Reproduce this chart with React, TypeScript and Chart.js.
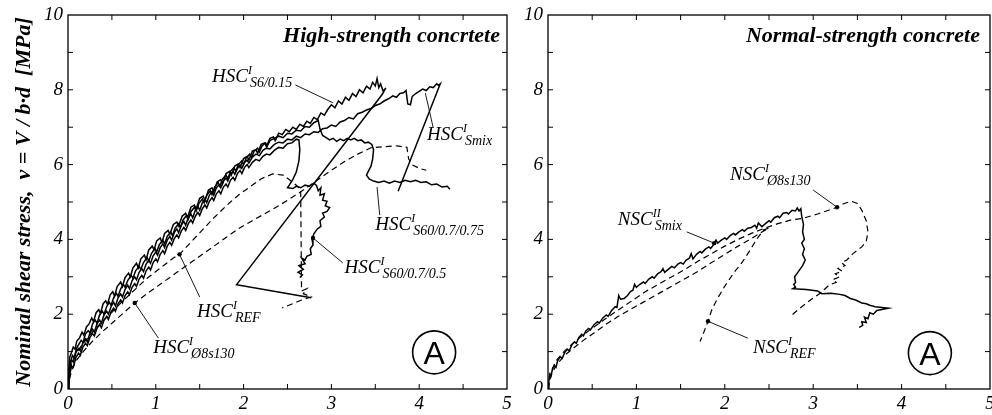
import React, { useEffect, useRef } from 'react';
import { Chart, registerables } from 'chart.js';

Chart.register(...registerables);

type Pt = [number, number];

const SERIF = '"Liberation Serif", "Times New Roman", serif';
const SANS = '"Liberation Sans", Arial, sans-serif';

// Axis ticks (labelled) and the unlabelled inner tick marks
const X_TICKS = [0, 1, 2, 3, 4, 5];
const Y_TICKS = [0, 2, 4, 6, 8, 10];
const X_MARKS = [0.5, 1, 1.5, 2, 2.5, 3, 3.5, 4, 4.5];
const Y_MARKS = [1, 2, 3, 4, 5, 6, 7, 8, 9];

// ---- High-strength concrete: shear stress v [MPa] vs. deflection ----
const hscS6: Pt[] = [
  [0, 0], [0.01, 0.55], [0.02, 0.85], [0.04, 0.98], [0.06, 1.12], [0.08, 1.06], [0.1, 1.28], [0.13, 1.36],
  [0.16, 1.52], [0.18, 1.44], [0.21, 1.66], [0.24, 1.74], [0.27, 1.9], [0.29, 1.8], [0.32, 2.04], [0.35, 2.12],
  [0.37, 2.02], [0.4, 2.28], [0.43, 2.36], [0.45, 2.26], [0.48, 2.52], [0.51, 2.6], [0.53, 2.48], [0.56, 2.74],
  [0.6, 2.86], [0.62, 2.74], [0.65, 2.98], [0.69, 3.1], [0.71, 3.0], [0.74, 3.24], [0.78, 3.36], [0.8, 3.24],
  [0.83, 3.48], [0.87, 3.58], [0.89, 3.46], [0.92, 3.72], [0.96, 3.82], [0.98, 3.72], [1.01, 3.96], [1.05, 4.04],
  [1.07, 3.92], [1.1, 4.16], [1.14, 4.24], [1.16, 4.14], [1.2, 4.4], [1.24, 4.46], [1.26, 4.36], [1.3, 4.62],
  [1.34, 4.7], [1.36, 4.58], [1.4, 4.86], [1.44, 4.92], [1.46, 4.82], [1.5, 5.1], [1.54, 5.16], [1.56, 5.04],
  [1.6, 5.32], [1.64, 5.38], [1.66, 5.28], [1.7, 5.54], [1.74, 5.6], [1.76, 5.48], [1.8, 5.76], [1.84, 5.82],
  [1.86, 5.72], [1.9, 5.96], [1.94, 6.02], [1.96, 5.92], [2.0, 6.16], [2.04, 6.22], [2.06, 6.12], [2.1, 6.36],
  [2.14, 6.4], [2.16, 6.3], [2.2, 6.54], [2.24, 6.58], [2.26, 6.48], [2.3, 6.7], [2.34, 6.74], [2.36, 6.64],
  [2.4, 6.84], [2.44, 6.8], [2.48, 6.94], [2.52, 6.88], [2.56, 7.0], [2.6, 6.94], [2.64, 7.08], [2.68, 7.02],
  [2.72, 7.16], [2.76, 7.1], [2.8, 7.26], [2.84, 7.2], [2.88, 7.38], [2.92, 7.32], [2.96, 7.48], [3.0, 7.6],
  [3.04, 7.52], [3.08, 7.7], [3.12, 7.62], [3.16, 7.8], [3.2, 7.72], [3.24, 7.9], [3.28, 7.82], [3.32, 8.0],
  [3.36, 7.92], [3.4, 8.1], [3.44, 8.02], [3.47, 8.2], [3.5, 8.1], [3.52, 8.3], [3.54, 8.06], [3.56, 8.16],
  [3.59, 7.96], [3.62, 8.05], [3.58, 7.88], [1.92, 2.79], [2.77, 2.44],
];
const hscS6075: Pt[] = [
  [0, 0], [0.01, 0.42], [0.03, 0.72], [0.05, 0.9], [0.07, 0.84], [0.1, 1.1], [0.12, 1.18], [0.15, 1.3],
  [0.17, 1.24], [0.2, 1.48], [0.23, 1.56], [0.25, 1.5], [0.28, 1.74], [0.31, 1.84], [0.33, 1.76], [0.36, 1.98],
  [0.39, 2.08], [0.41, 2.0], [0.44, 2.2], [0.47, 2.32], [0.49, 2.24], [0.52, 2.44], [0.55, 2.56], [0.57, 2.48],
  [0.6, 2.68], [0.63, 2.8], [0.65, 2.72], [0.68, 2.9], [0.72, 3.04], [0.74, 2.96], [0.77, 3.16], [0.81, 3.28],
  [0.83, 3.2], [0.86, 3.38], [0.9, 3.52], [0.92, 3.42], [0.95, 3.62], [0.99, 3.76], [1.01, 3.66], [1.04, 3.86],
  [1.08, 3.98], [1.1, 3.88], [1.13, 4.08], [1.17, 4.2], [1.19, 4.1], [1.22, 4.3], [1.26, 4.42], [1.28, 4.32],
  [1.31, 4.52], [1.35, 4.64], [1.37, 4.54], [1.4, 4.74], [1.44, 4.86], [1.46, 4.76], [1.49, 4.96], [1.53, 5.08],
  [1.55, 4.98], [1.58, 5.18], [1.62, 5.3], [1.64, 5.2], [1.67, 5.4], [1.71, 5.52], [1.73, 5.42], [1.76, 5.62],
  [1.8, 5.72], [1.82, 5.62], [1.85, 5.82], [1.89, 5.92], [1.91, 5.82], [1.94, 6.0], [1.98, 6.1], [2.0, 6.0],
  [2.03, 6.18], [2.07, 6.28], [2.09, 6.18], [2.12, 6.36], [2.16, 6.44], [2.18, 6.34], [2.21, 6.5], [2.25, 6.58],
  [2.27, 6.5], [2.3, 6.64], [2.35, 6.7], [2.4, 6.76], [2.45, 6.72], [2.5, 6.84], [2.55, 6.82], [2.6, 6.92],
  [2.65, 6.9], [2.7, 7.02], [2.75, 7.0], [2.8, 7.12], [2.85, 7.18], [2.87, 6.95], [2.9, 6.78], [2.94, 6.72],
  [2.98, 6.66], [3.02, 6.7], [3.06, 6.62], [3.1, 6.68], [3.14, 6.64], [3.18, 6.7], [3.22, 6.66], [3.26, 6.7],
  [3.3, 6.64], [3.34, 6.66], [3.38, 6.58], [3.42, 6.6], [3.46, 6.54], [3.48, 6.4], [3.47, 6.15], [3.45, 5.95],
  [3.42, 5.82], [3.4, 5.72], [3.43, 5.62], [3.48, 5.56], [3.54, 5.52], [3.6, 5.56], [3.66, 5.5], [3.72, 5.56],
  [3.78, 5.52], [3.84, 5.58], [3.9, 5.54], [3.96, 5.58], [4.02, 5.52], [4.08, 5.54], [4.14, 5.46], [4.2, 5.48],
  [4.26, 5.4], [4.32, 5.42], [4.35, 5.34],
];
const hscSmix: Pt[] = [
  [0, 0], [0.02, 0.6], [0.04, 0.78], [0.06, 0.72], [0.09, 0.98], [0.12, 1.08], [0.14, 1.02], [0.17, 1.24],
  [0.2, 1.34], [0.22, 1.26], [0.25, 1.5], [0.28, 1.6], [0.3, 1.52], [0.33, 1.74], [0.36, 1.84], [0.38, 1.76],
  [0.41, 1.98], [0.44, 2.08], [0.46, 2.0], [0.49, 2.2], [0.52, 2.32], [0.54, 2.22], [0.57, 2.44], [0.6, 2.54],
  [0.62, 2.46], [0.65, 2.66], [0.68, 2.78], [0.7, 2.68], [0.73, 2.9], [0.76, 3.0], [0.78, 2.92], [0.81, 3.12],
  [0.84, 3.22], [0.86, 3.14], [0.89, 3.34], [0.92, 3.44], [0.94, 3.36], [0.97, 3.56], [1.0, 3.66], [1.02, 3.58],
  [1.05, 3.78], [1.08, 3.88], [1.1, 3.78], [1.13, 3.98], [1.16, 4.08], [1.18, 3.98], [1.21, 4.18], [1.24, 4.28],
  [1.26, 4.18], [1.29, 4.38], [1.32, 4.48], [1.34, 4.38], [1.37, 4.58], [1.4, 4.68], [1.42, 4.58], [1.45, 4.78],
  [1.48, 4.88], [1.5, 4.78], [1.53, 4.98], [1.56, 5.08], [1.58, 4.98], [1.61, 5.18], [1.64, 5.28], [1.66, 5.18],
  [1.69, 5.38], [1.72, 5.46], [1.74, 5.38], [1.77, 5.56], [1.8, 5.64], [1.82, 5.56], [1.85, 5.74], [1.88, 5.82],
  [1.9, 5.74], [1.93, 5.9], [1.96, 5.98], [1.98, 5.9], [2.01, 6.06], [2.04, 6.12], [2.06, 6.04], [2.1, 6.2],
  [2.14, 6.28], [2.18, 6.24], [2.22, 6.38], [2.26, 6.44], [2.3, 6.42], [2.35, 6.54], [2.4, 6.6], [2.45, 6.58],
  [2.5, 6.68], [2.55, 6.66], [2.6, 6.76], [2.65, 6.72], [2.7, 6.82], [2.75, 6.8], [2.8, 6.88], [2.85, 6.86],
  [2.9, 6.96], [2.95, 6.98], [3.0, 7.06], [3.05, 7.02], [3.1, 7.14], [3.15, 7.18], [3.2, 7.26], [3.25, 7.22],
  [3.3, 7.36], [3.35, 7.4], [3.4, 7.46], [3.45, 7.5], [3.5, 7.58], [3.55, 7.62], [3.6, 7.7], [3.65, 7.76],
  [3.7, 7.84], [3.74, 7.8], [3.78, 7.9], [3.82, 7.92], [3.85, 7.98], [3.87, 7.62], [3.9, 7.6], [3.92, 7.82],
  [3.96, 7.9], [4.0, 7.96], [4.04, 8.02], [4.08, 7.98], [4.12, 8.08], [4.16, 8.06], [4.2, 8.16], [4.22, 8.12],
  [4.24, 8.16], [3.76, 5.29],
];
const hscS605: Pt[] = [
  [0, 0], [0.02, 0.38], [0.04, 0.62], [0.06, 0.58], [0.09, 0.84], [0.12, 0.96], [0.14, 0.9], [0.17, 1.12],
  [0.2, 1.22], [0.22, 1.16], [0.25, 1.38], [0.28, 1.48], [0.3, 1.42], [0.33, 1.62], [0.36, 1.72], [0.38, 1.64],
  [0.41, 1.84], [0.44, 1.94], [0.46, 1.86], [0.49, 2.06], [0.52, 2.16], [0.54, 2.08], [0.57, 2.28], [0.6, 2.38],
  [0.62, 2.3], [0.65, 2.5], [0.68, 2.6], [0.7, 2.52], [0.73, 2.72], [0.76, 2.82], [0.78, 2.74], [0.81, 2.94],
  [0.84, 3.04], [0.86, 2.96], [0.89, 3.16], [0.92, 3.26], [0.94, 3.18], [0.97, 3.38], [1.0, 3.48], [1.02, 3.4],
  [1.05, 3.6], [1.08, 3.7], [1.1, 3.62], [1.13, 3.82], [1.16, 3.92], [1.18, 3.84], [1.21, 4.02], [1.24, 4.12],
  [1.26, 4.04], [1.29, 4.22], [1.32, 4.32], [1.34, 4.24], [1.37, 4.42], [1.4, 4.52], [1.42, 4.44], [1.45, 4.62],
  [1.48, 4.72], [1.5, 4.64], [1.53, 4.82], [1.56, 4.92], [1.58, 4.84], [1.61, 5.02], [1.64, 5.12], [1.66, 5.04],
  [1.69, 5.22], [1.72, 5.3], [1.74, 5.22], [1.77, 5.4], [1.8, 5.48], [1.82, 5.4], [1.85, 5.58], [1.88, 5.66],
  [1.9, 5.58], [1.93, 5.76], [1.96, 5.84], [1.98, 5.76], [2.01, 5.92], [2.04, 6.0], [2.06, 5.92], [2.1, 6.06],
  [2.14, 6.14], [2.18, 6.1], [2.22, 6.22], [2.26, 6.28], [2.3, 6.26], [2.35, 6.38], [2.4, 6.46], [2.45, 6.44],
  [2.5, 6.56], [2.55, 6.58], [2.6, 6.68], [2.63, 6.66], [2.64, 6.4], [2.63, 6.1], [2.6, 5.8], [2.56, 5.6],
  [2.52, 5.45], [2.5, 5.38], [2.56, 5.36], [2.6, 5.42], [2.65, 5.38], [2.7, 5.45], [2.75, 5.42], [2.8, 5.5],
  [2.83, 5.44], [2.85, 5.3], [2.88, 5.38], [2.87, 5.18], [2.92, 5.22], [2.9, 5.05], [2.95, 5.02], [2.93, 4.9],
  [2.98, 4.85], [2.95, 4.75], [2.9, 4.7], [2.92, 4.6], [2.87, 4.5], [2.88, 4.35], [2.84, 4.28], [2.8, 4.15],
  [2.78, 4.0], [2.79, 3.85], [2.76, 3.75], [2.77, 3.6], [2.72, 3.55], [2.7, 3.45], [2.66, 3.5], [2.7, 3.35],
  [2.63, 3.3], [2.68, 3.2], [2.62, 3.12], [2.67, 3.05], [2.64, 2.98],
];
const hscRef: Pt[] = [
  [0, 0], [0.01, 0.35], [0.03, 0.6], [0.07, 0.85], [0.12, 1.05], [0.2, 1.3], [0.3, 1.58], [0.4, 1.82],
  [0.5, 2.05], [0.6, 2.3], [0.7, 2.52], [0.8, 2.74], [0.9, 2.96], [1.0, 3.14], [1.1, 3.32], [1.2, 3.5],
  [1.27, 3.6], [1.35, 3.8], [1.45, 4.05], [1.55, 4.3], [1.65, 4.55], [1.75, 4.78], [1.85, 5.0], [1.95, 5.2],
  [2.07, 5.4], [2.2, 5.62], [2.33, 5.75], [2.45, 5.72], [2.53, 5.58], [2.6, 5.45], [2.65, 5.35], [2.66, 2.62],
  [2.72, 2.68], [2.68, 2.55], [2.77, 2.46], [2.66, 2.38], [2.56, 2.28], [2.44, 2.17],
];
const hscD8: Pt[] = [
  [0, 0], [0.02, 0.3], [0.05, 0.55], [0.1, 0.78], [0.18, 1.02], [0.28, 1.28], [0.4, 1.55], [0.52, 1.8],
  [0.64, 2.05], [0.76, 2.3], [0.9, 2.55], [1.05, 2.8], [1.2, 3.05], [1.35, 3.3], [1.5, 3.55], [1.65, 3.8],
  [1.8, 4.05], [1.95, 4.3], [2.1, 4.5], [2.25, 4.7], [2.4, 4.9], [2.55, 5.12], [2.7, 5.35], [2.85, 5.6],
  [3.0, 5.85], [3.15, 6.08], [3.3, 6.28], [3.45, 6.45], [3.6, 6.48], [3.75, 6.5], [3.86, 6.46], [3.88, 6.15],
  [3.93, 5.98], [4.0, 5.9], [4.08, 5.85],
];

// ---- Normal-strength concrete ----
const nscSmix: Pt[] = [
  [0, 0], [0.01, 0.2], [0.02, 0.38], [0.03, 0.32], [0.05, 0.52], [0.07, 0.62], [0.09, 0.58], [0.11, 0.76],
  [0.14, 0.86], [0.16, 0.82], [0.19, 0.98], [0.22, 1.06], [0.24, 1.02], [0.27, 1.18], [0.3, 1.26], [0.32, 1.22],
  [0.35, 1.38], [0.38, 1.46], [0.4, 1.42], [0.43, 1.56], [0.46, 1.62], [0.48, 1.58], [0.52, 1.72], [0.56, 1.8],
  [0.58, 1.76], [0.62, 1.9], [0.66, 1.98], [0.68, 1.94], [0.72, 2.1], [0.76, 2.2], [0.78, 2.18], [0.8, 2.5],
  [0.82, 2.4], [0.86, 2.42], [0.9, 2.5], [0.93, 2.6], [0.96, 2.64], [0.98, 2.8], [1.0, 2.72], [1.04, 2.8],
  [1.08, 2.86], [1.1, 2.82], [1.14, 2.94], [1.18, 3.0], [1.2, 2.96], [1.24, 3.08], [1.28, 3.14], [1.3, 3.22],
  [1.32, 3.12], [1.36, 3.2], [1.4, 3.28], [1.43, 3.24], [1.47, 3.34], [1.5, 3.38], [1.53, 3.34], [1.56, 3.44],
  [1.6, 3.5], [1.62, 3.62], [1.64, 3.48], [1.68, 3.6], [1.72, 3.68], [1.74, 3.64], [1.78, 3.74], [1.82, 3.8],
  [1.84, 3.76], [1.88, 3.88], [1.9, 3.98], [1.92, 3.9], [1.96, 3.98], [2.0, 4.04], [2.02, 4.0], [2.06, 4.1],
  [2.1, 4.16], [2.12, 4.12], [2.16, 4.2], [2.2, 4.26], [2.22, 4.22], [2.26, 4.3], [2.3, 4.32], [2.34, 4.38],
  [2.36, 4.3], [2.38, 4.44], [2.42, 4.34], [2.46, 4.42], [2.5, 4.5], [2.52, 4.46], [2.56, 4.58], [2.6, 4.62],
  [2.62, 4.58], [2.66, 4.7], [2.7, 4.72], [2.72, 4.68], [2.76, 4.78], [2.8, 4.76], [2.82, 4.84], [2.84, 4.76],
  [2.86, 4.82], [2.87, 4.62], [2.89, 4.4], [2.88, 4.2], [2.9, 4.0], [2.87, 3.9], [2.9, 3.75], [2.88, 3.6],
  [2.91, 3.45], [2.88, 3.3], [2.82, 3.1], [2.79, 3.0], [2.8, 2.85], [2.78, 2.8], [2.8, 2.72], [2.77, 2.68],
  [2.92, 2.66], [3.05, 2.62], [3.1, 2.55], [3.2, 2.56], [3.3, 2.53], [3.36, 2.5], [3.42, 2.42], [3.48, 2.38],
  [3.55, 2.3], [3.6, 2.28], [3.64, 2.24], [3.7, 2.2], [3.78, 2.18], [3.85, 2.16], [3.72, 2.1], [3.68, 2.0],
  [3.64, 2.04], [3.62, 1.88], [3.58, 1.92], [3.6, 1.78], [3.55, 1.8], [3.56, 1.7], [3.52, 1.65],
];
const nscD8: Pt[] = [
  [0, 0], [0.02, 0.3], [0.05, 0.55], [0.1, 0.78], [0.18, 1.0], [0.28, 1.22], [0.4, 1.45], [0.52, 1.66],
  [0.65, 1.88], [0.8, 2.12], [0.95, 2.36], [1.1, 2.6], [1.25, 2.8], [1.4, 3.0], [1.55, 3.2], [1.7, 3.42],
  [1.85, 3.62], [2.0, 3.82], [2.15, 4.0], [2.3, 4.16], [2.45, 4.3], [2.6, 4.42], [2.75, 4.52], [2.88, 4.56],
  [3.05, 4.68], [3.15, 4.76], [3.27, 4.86], [3.35, 4.96], [3.43, 5.02], [3.5, 4.96], [3.55, 4.78], [3.6, 4.5],
  [3.62, 4.2], [3.6, 3.95], [3.55, 3.8], [3.45, 3.62], [3.38, 3.45], [3.32, 3.38], [3.36, 3.3], [3.28, 3.22],
  [3.33, 3.15], [3.25, 3.08], [3.3, 3.0], [3.22, 2.92], [3.26, 2.85], [3.18, 2.78], [3.08, 2.56], [2.98, 2.4],
  [2.86, 2.18], [2.74, 1.94],
];
const nscRef: Pt[] = [
  [0, 0], [0.02, 0.25], [0.05, 0.45], [0.1, 0.65], [0.18, 0.88], [0.28, 1.08], [0.4, 1.3], [0.52, 1.5],
  [0.65, 1.72], [0.8, 1.95], [0.95, 2.15], [1.1, 2.35], [1.25, 2.55], [1.4, 2.75], [1.55, 2.95], [1.7, 3.15],
  [1.85, 3.38], [2.0, 3.6], [2.15, 3.82], [2.3, 4.02], [2.42, 4.2], [2.5, 4.3], [2.44, 4.26], [2.36, 4.0],
  [2.29, 3.73], [2.2, 3.4], [2.1, 3.1], [2.0, 2.75], [1.91, 2.39], [1.85, 2.1], [1.81, 1.81], [1.76, 1.5],
  [1.72, 1.27],
];

interface Series { pts: Pt[]; dashed?: boolean }
interface Tag { main: string; sup: string; sub: string; at: Pt; from: Pt; to: Pt; dot: boolean }
interface PanelCfg {
  key: string;
  width: number;
  axisWidth: number;
  padRight: number;
  yTitle: string | null;
  heading: string;
  headingInset: number;
  series: Series[];
  tags: Tag[];
  badge: Pt;
}

const LEFT: PanelCfg = {
  key: 'hsc',
  width: 520,
  axisWidth: 68,
  padRight: 13,
  yTitle: 'Nominal shear stress,  v = V / b\u00b7d  [MPa]',
  heading: 'High-strength concrtete',
  headingInset: 7,
  series: [
    { pts: hscS6 }, { pts: hscSmix }, { pts: hscS6075 }, { pts: hscS605 },
    { pts: hscRef, dashed: true }, { pts: hscD8, dashed: true },
  ],
  tags: [
    { main: 'HSC', sup: 'I', sub: 'S6/0.15', at: [1.64, 8.21], from: [2.59, 8.13], to: [3.02, 7.65], dot: false },
    { main: 'HSC', sup: 'I', sub: 'Smix', at: [4.09, 6.66], from: [4.16, 6.98], to: [4.07, 7.91], dot: false },
    { main: 'HSC', sup: 'I', sub: 'S60/0.7/0.75', at: [3.5, 4.25], from: [3.55, 4.65], to: [3.52, 5.4], dot: false },
    { main: 'HSC', sup: 'I', sub: 'S60/0.7/0.5', at: [3.15, 3.1], from: [3.13, 3.37], to: [2.79, 4.04], dot: true },
    { main: 'HSC', sup: 'I', sub: 'REF', at: [1.47, 1.93], from: [1.5, 2.46], to: [1.27, 3.6], dot: true },
    { main: 'HSC', sup: 'I', sub: '\u00d88s130', at: [0.97, 0.96], from: [1.03, 1.36], to: [0.76, 2.3], dot: true },
  ],
  badge: [4.17, 0.98],
};

const RIGHT: PanelCfg = {
  key: 'nsc',
  width: 472,
  axisWidth: 28,
  padRight: 2,
  yTitle: null,
  heading: 'Normal-strength concrete',
  headingInset: 10,
  series: [
    { pts: nscSmix }, { pts: nscD8, dashed: true }, { pts: nscRef, dashed: true },
  ],
  tags: [
    { main: 'NSC', sup: 'I', sub: '\u00d88s130', at: [2.06, 5.59], from: [3.0, 5.32], to: [3.27, 4.86], dot: true },
    { main: 'NSC', sup: 'II', sub: 'Smix', at: [0.79, 4.39], from: [1.57, 4.2], to: [1.88, 3.9], dot: true },
    { main: 'NSC', sup: 'I', sub: 'REF', at: [2.32, 0.96], from: [2.26, 1.36], to: [1.81, 1.81], dot: true },
  ],
  badge: [4.32, 0.96],
};

function decorPlugin(cfg: PanelCfg) {
  return {
    id: 'decor-' + cfg.key,
    afterDatasetsDraw(chart: any) {
      const { ctx, chartArea: a } = chart;
      const xs = chart.scales.x;
      const ys = chart.scales.y;
      const X = (v: number) => xs.getPixelForValue(v);
      const Y = (v: number) => ys.getPixelForValue(v);
      ctx.save();
      ctx.strokeStyle = '#000';
      ctx.fillStyle = '#000';

      // frame
      ctx.lineWidth = 1.3;
      ctx.strokeRect(a.left, a.top, a.right - a.left, a.bottom - a.top);

      // inward tick marks on all four sides
      ctx.lineWidth = 1;
      ctx.beginPath();
      for (const v of X_MARKS) {
        const p = X(v);
        ctx.moveTo(p, a.bottom); ctx.lineTo(p, a.bottom - 5);
        ctx.moveTo(p, a.top); ctx.lineTo(p, a.top + 5);
      }
      for (const v of Y_MARKS) {
        const p = Y(v);
        ctx.moveTo(a.left, p); ctx.lineTo(a.left + 5, p);
        ctx.moveTo(a.right, p); ctx.lineTo(a.right - 5, p);
      }
      ctx.stroke();

      // heading
      ctx.font = `italic bold 22px ${SERIF}`;
      ctx.textAlign = 'right';
      ctx.textBaseline = 'alphabetic';
      ctx.fillText(cfg.heading, a.right - cfg.headingInset, a.top + 27);

      // specimen tags with leader lines
      ctx.textAlign = 'left';
      for (const t of cfg.tags) {
        ctx.lineWidth = 0.9;
        ctx.beginPath();
        ctx.moveTo(X(t.from[0]), Y(t.from[1]));
        ctx.lineTo(X(t.to[0]), Y(t.to[1]));
        ctx.stroke();
        if (t.dot) {
          ctx.beginPath();
          ctx.arc(X(t.to[0]), Y(t.to[1]), 2.2, 0, Math.PI * 2);
          ctx.fill();
        }
        const tx = X(t.at[0]);
        const ty = Y(t.at[1]);
        ctx.font = `italic 19px ${SERIF}`;
        ctx.fillText(t.main, tx, ty);
        const w = ctx.measureText(t.main).width;
        ctx.font = `italic 12px ${SERIF}`;
        ctx.fillText(t.sup, tx + w, ty - 8);
        ctx.font = `italic 14px ${SERIF}`;
        ctx.fillText(t.sub, tx + w + 2, ty + 5);
      }

      // circled panel letter
      const cx = X(cfg.badge[0]);
      const cy = Y(cfg.badge[1]);
      ctx.lineWidth = 1.6;
      ctx.beginPath();
      ctx.arc(cx, cy, 21.5, 0, Math.PI * 2);
      ctx.stroke();
      ctx.font = `32px ${SANS}`;
      ctx.textAlign = 'center';
      ctx.textBaseline = 'alphabetic';
      ctx.fillText('A', cx, cy + 11.5);
      ctx.restore();
    },
  };
}

function Panel({ cfg, left }: { cfg: PanelCfg; left: number }) {
  const ref = useRef<HTMLCanvasElement | null>(null);

  useEffect(() => {
    const canvas = ref.current;
    if (!canvas) return;
    const tickFont = { family: SERIF, size: 19, style: 'italic' as const };
    const chart = new Chart(canvas, {
      type: 'scatter',
      data: {
        datasets: cfg.series.map((s) => ({
          data: s.pts.map(([x, y]) => ({ x, y })),
          showLine: true,
          borderColor: '#000',
          backgroundColor: '#000',
          borderWidth: s.dashed ? 1.2 : 1.5,
          borderDash: s.dashed ? [6, 4] : [],
          pointRadius: 0,
          pointHoverRadius: 0,
          tension: 0,
        })),
      },
      options: {
        responsive: false,
        animation: false,
        devicePixelRatio: 1,
        events: [],
        layout: { padding: { left: 0, right: cfg.padRight, top: 15, bottom: 0 } },
        plugins: { legend: { display: false }, tooltip: { enabled: false } },
        scales: {
          x: {
            type: 'linear',
            min: 0,
            max: 5,
            grid: { display: false, drawTicks: false },
            border: { display: false },
            ticks: { font: tickFont, color: '#000', padding: 4, maxRotation: 0 },
            afterBuildTicks: (s: any) => { s.ticks = X_TICKS.map((v) => ({ value: v })); },
            afterFit: (s: any) => { s.height = 26; s.paddingLeft = 0; s.paddingRight = 0; },
          },
          y: {
            type: 'linear',
            min: 0,
            max: 10,
            grid: { display: false, drawTicks: false },
            border: { display: false },
            ticks: { font: tickFont, color: '#000', padding: 5 },
            afterBuildTicks: (s: any) => { s.ticks = Y_TICKS.map((v) => ({ value: v })); },
            afterFit: (s: any) => { s.width = cfg.axisWidth; s.paddingTop = 0; s.paddingBottom = 0; },
            title: {
              display: !!cfg.yTitle,
              text: cfg.yTitle || '',
              color: '#000',
              font: { family: SERIF, size: 22, style: 'italic', weight: 'bold' },
              padding: { top: 11, bottom: 0 },
            },
          },
        },
      },
      plugins: [decorPlugin(cfg)],
    } as any);
    return () => chart.destroy();
  }, [cfg]);

  return (
    <canvas
      ref={ref}
      width={cfg.width}
      height={415}
      style={{ position: 'absolute', left, top: 0, width: cfg.width, height: 415, display: 'block' }}
    />
  );
}

export default function App() {
  return (
    <div style={{ position: 'absolute', left: 0, top: 0, width: 992, height: 415, background: '#fff', overflow: 'hidden' }}>
      <Panel cfg={LEFT} left={0} />
      <Panel cfg={RIGHT} left={520} />
    </div>
  );
}
